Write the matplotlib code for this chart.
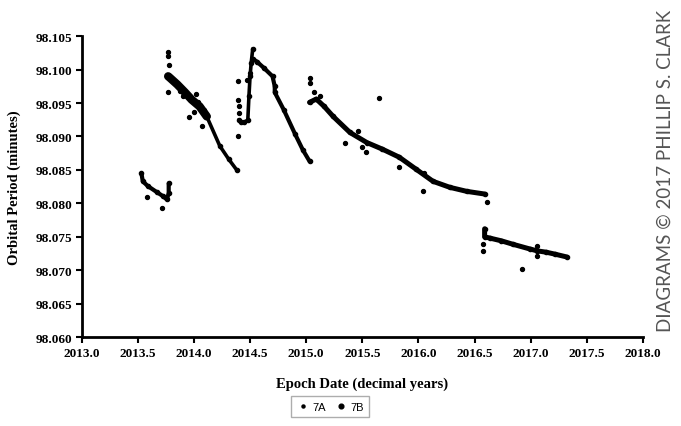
import matplotlib
matplotlib.use("Agg")
import matplotlib.pyplot as plt
import numpy as np

# main bands (7B), one list per pass of the curve
seg1_x = [2013.532, 2013.544, 2013.588, 2013.668, 2013.722, 2013.758, 2013.775, 2013.775]
seg1_y = [98.0845, 98.0833, 98.0826, 98.0817, 98.0811, 98.0806, 98.0815, 98.0830]

# the wide, noisy part just after the first manoeuvre
seg2a_x = [2013.77, 2013.784, 2013.85, 2013.92, 2013.98, 2014.05, 2014.114]
seg2a_y = [98.0990, 98.0988, 98.0978, 98.0966, 98.0955, 98.0945, 98.0930]

seg2b_x = [2014.114, 2014.23, 2014.31, 2014.381]
seg2b_y = [98.0930, 98.0886, 98.0866, 98.0850]

seg3_x = [2014.40, 2014.42, 2014.45, 2014.48, 2014.49, 2014.50, 2014.51, 2014.524]
seg3_y = [98.0925, 98.0922, 98.0921, 98.0925, 98.0960, 98.0990, 98.1010, 98.1031]

seg4_x = [2014.524, 2014.56, 2014.62, 2014.70, 2014.72, 2014.72, 2014.80, 2014.90, 2014.97, 2015.03]
seg4_y = [98.1016, 98.1012, 98.1003, 98.0990, 98.0975, 98.0966, 98.0940, 98.0904, 98.0880, 98.0863]

seg5_x = [2015.03, 2015.09, 2015.16, 2015.24, 2015.39, 2015.54, 2015.68, 2015.83, 2015.98,
          2016.13, 2016.28, 2016.43, 2016.59]
seg5_y = [98.0951, 98.0956, 98.0945, 98.0930, 98.0906, 98.0891, 98.0881, 98.0869, 98.0851,
          98.0833, 98.0824, 98.0818, 98.0814]

seg6_x = [2016.59, 2016.59, 2016.64, 2016.74, 2016.84, 2016.99, 2017.06, 2017.14, 2017.22, 2017.32]
seg6_y = [98.0762, 98.0750, 98.0748, 98.0744, 98.0739, 98.0732, 98.0729, 98.0727, 98.0724, 98.0720]

# scattered points (7A)
out_x = [2013.58, 2013.713, 2013.77, 2013.77, 2013.78, 2013.77, 2014.02, 2013.96, 2014.07, 2013.90,
         2014.00, 2014.10, 2014.39, 2014.39, 2014.39, 2014.40, 2014.40, 2015.03, 2015.03, 2015.07,
         2015.12, 2015.65, 2015.35, 2015.46, 2015.53, 2015.83, 2016.04, 2016.61, 2016.58, 2016.58,
         2016.92, 2017.06, 2017.06, 2014.47, 2014.50, 2013.88, 2014.04, 2014.09, 2016.05, 2015.50]
out_y = [98.0809, 98.0793, 98.1026, 98.1020, 98.1007, 98.0966, 98.0963, 98.0929, 98.0915, 98.0960,
         98.0936, 98.0935, 98.0983, 98.0955, 98.0900, 98.0935, 98.0945, 98.0987, 98.0980, 98.0966,
         98.0960, 98.0957, 98.0891, 98.0908, 98.0877, 98.0854, 98.0818, 98.0802, 98.0739, 98.0729,
         98.0702, 98.0736, 98.0722, 98.0985, 98.0995, 98.0968, 98.0952, 98.0940, 98.0846, 98.0885]

x_ticks = np.arange(2013.0, 2018.01, 0.5)
y_ticks = np.arange(98.060, 98.1051, 0.005)

fig = plt.figure(figsize=(6.81, 4.27), dpi=100)
ax = fig.add_axes([0.120, 0.208, 0.824, 0.705])

segs = [(seg1_x, seg1_y, 3.0), (seg2a_x, seg2a_y, 6.0), (seg2b_x, seg2b_y, 2.6),
        (seg3_x, seg3_y, 2.6), (seg4_x, seg4_y, 3.0), (seg5_x, seg5_y, 3.6),
        (seg6_x, seg6_y, 3.6)]
for sx, sy, lw in segs:
    ax.plot(sx, sy, color="black", linewidth=lw, solid_capstyle="round",
            solid_joinstyle="round", marker="o", markersize=3, zorder=3)

ax.scatter(out_x, out_y, s=8, color="black", zorder=3)

# legend handles
h1, = ax.plot([], [], "o", color="black", markersize=2.2, label="7A")
h2, = ax.plot([], [], "o", color="black", markersize=3.4, label="7B")

ax.set_xlim(2013.0, 2018.0)
ax.set_ylim(98.060, 98.105)
ax.set_xticks(x_ticks)
ax.set_yticks(y_ticks)
ax.set_xticklabels([f"{t:.1f}" for t in x_ticks])
ax.set_yticklabels([f"{t:.3f}" for t in y_ticks])

serif = {"family": "Liberation Serif", "weight": "bold"}
for lab in ax.get_xticklabels() + ax.get_yticklabels():
    lab.set_fontfamily("Liberation Serif")
    lab.set_fontweight("bold")
    lab.set_fontsize(9.5)

ax.set_xlabel("Epoch Date (decimal years)", fontdict=serif, fontsize=10.5, labelpad=13)
ax.set_ylabel("Orbital Period (minutes)", fontdict=serif, fontsize=10.5, labelpad=10)

for s in ["top", "right"]:
    ax.spines[s].set_visible(False)
for s in ["left", "bottom"]:
    ax.spines[s].set_linewidth(2)
ax.tick_params(direction="out", length=4, width=1.5, pad=3)

fig.legend(handles=[h1, h2], loc="center", bbox_to_anchor=(0.485, 0.045), ncol=2,
           frameon=True, fancybox=False, edgecolor="#999999", handletextpad=0.2,
           columnspacing=0.8, handlelength=1.2, borderpad=0.5,
           prop={"family": "Liberation Sans", "size": 8})

fig.text(0.977, 0.60, "DIAGRAMS © 2017 PHILLIP S. CLARK", rotation=90,
         ha="center", va="center", fontsize=13.5, color="#555555", family="Lato")

fig.savefig("out.png", dpi=100)
